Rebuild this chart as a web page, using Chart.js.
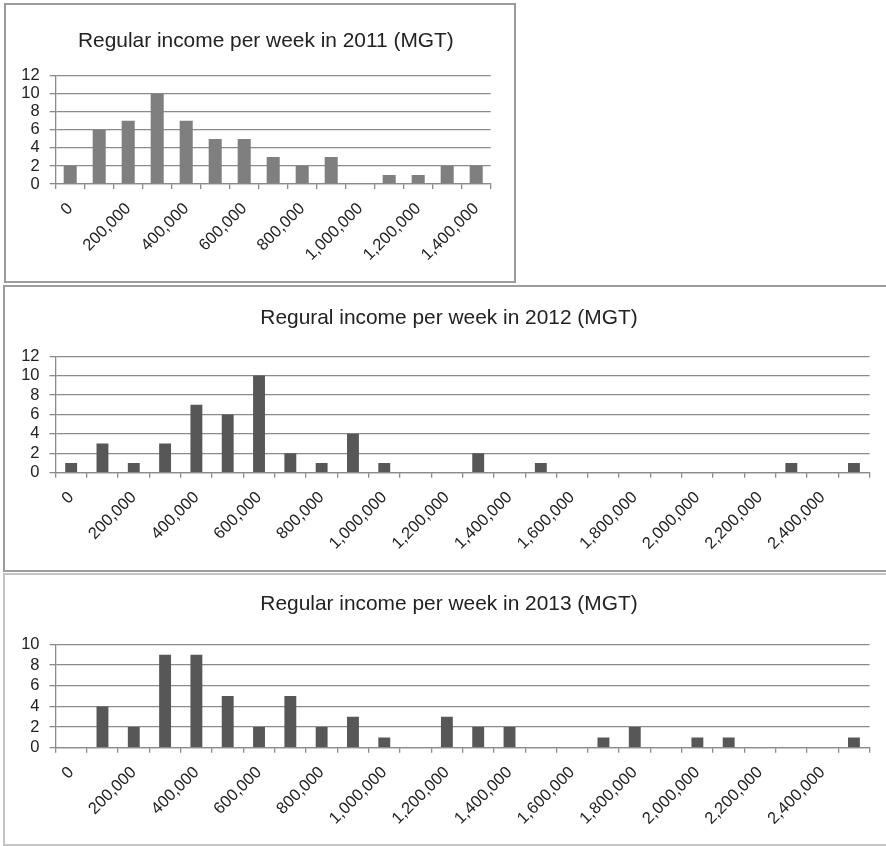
<!DOCTYPE html>
<html>
<head>
<meta charset="utf-8">
<script src="https://cdn.jsdelivr.net/npm/chart.js@4.4.0/dist/chart.umd.min.js"></script>
<style>
  html, body { margin: 0; padding: 0; background: #fff; width: 886px; height: 846px; overflow: hidden; }
  .panel { position: absolute; box-sizing: border-box; border: 2px solid #9c9c9c; }
  canvas { position: absolute; }
</style>
</head>
<body>
<div class="panel" style="left:4px;top:3px;width:512px;height:280px"></div>
<div class="panel" style="left:3px;top:285px;width:900px;height:287px"></div>
<div class="panel" style="left:3px;top:573px;width:900px;height:273px;border-color:#c4c4c4"></div>
<canvas id="c2011" width="520" height="285" style="left:0;top:0"></canvas>
<canvas id="c2012" width="886" height="283" style="left:0;top:287px"></canvas>
<canvas id="c2013" width="886" height="271" style="left:0;top:575px"></canvas>
<script>
// Income bins (MGT per week), 100,000 wide
const bins2011 = ['0', '100,000', '200,000', '300,000', '400,000', '500,000', '600,000',
  '700,000', '800,000', '900,000', '1,000,000', '1,100,000', '1,200,000', '1,300,000', '1,400,000'];
const binsWide = ['0', '100,000', '200,000', '300,000', '400,000', '500,000', '600,000',
  '700,000', '800,000', '900,000', '1,000,000', '1,100,000', '1,200,000', '1,300,000',
  '1,400,000', '1,500,000', '1,600,000', '1,700,000', '1,800,000', '1,900,000', '2,000,000',
  '2,100,000', '2,200,000', '2,300,000', '2,400,000', '2,500,000'];

// Number of households in each bin
const counts2011 = [2, 6, 7, 10, 7, 5, 5, 3, 2, 3, 0, 1, 1, 2, 2];
const counts2012 = [1, 3, 1, 3, 7, 6, 10, 2, 1, 4, 1, 0, 0, 2, 0, 1, 0, 0, 0, 0, 0, 0, 0, 1, 0, 1];
const counts2013 = [0, 4, 2, 9, 9, 5, 2, 5, 2, 3, 1, 0, 3, 2, 2, 0, 0, 1, 2, 0, 1, 1, 0, 0, 0, 1];

const titles = [
  'Regular income per week in 2011 (MGT)',
  'Regural income per week in 2012 (MGT)',
  'Regular income per week in 2013 (MGT)'
];

const FONT = "'Liberation Sans', Arial, sans-serif";
const GRID = '#8a8a8a';
const TEXT = '#222222';

// Nudges the title block sideways after layout, so it is centred over the whole panel
const titleShift = {
  id: 'titleShift',
  afterLayout(chart, args, opts) {
    const t = chart.titleBlock;
    if (t && opts.dx) { t.left += opts.dx; t.right += opts.dx; }
  }
};

function drawHistogram(id, o) {
  return new Chart(document.getElementById(id), {
    type: 'bar',
    plugins: [titleShift],
    data: {
      labels: o.labels,
      datasets: [{
        data: o.values,
        backgroundColor: o.color,
        borderWidth: 0,
        barPercentage: o.barPct,
        categoryPercentage: 1
      }]
    },
    options: {
      responsive: false,
      animation: false,
      devicePixelRatio: 1,
      layout: { padding: { left: 0, right: o.padRight, top: 0, bottom: 0 } },
      plugins: {
        legend: { display: false },
        tooltip: { enabled: false },
        titleShift: { dx: o.titleDx },
        title: {
          display: true,
          text: o.title,
          color: TEXT,
          font: { family: FONT, size: 20.9, weight: 'normal', lineHeight: 1.2 },
          padding: { top: o.titleTop, bottom: o.titleBottom }
        }
      },
      scales: {
        x: {
          offset: true,
          grid: { display: true, offset: true, drawOnChartArea: false, drawTicks: true,
                  tickLength: 5, color: GRID, lineWidth: 1.3 },
          border: { display: true, color: GRID, width: 1.3 },
          ticks: {
            autoSkip: false, minRotation: 45, maxRotation: 45, padding: 10,
            color: TEXT, font: { family: FONT, size: 16.5 },
            callback: function (v, i) { return i % 2 === 0 ? this.getLabelForValue(v) : ''; }
          },
          afterFit: (s) => { s.height = o.xHeight; }
        },
        y: {
          min: 0, max: o.yMax,
          ticks: { stepSize: 2, autoSkip: false, padding: 10, color: TEXT,
                   font: { family: FONT, size: 16.5 } },
          grid: { color: GRID, lineWidth: 1.3, tickLength: 6 },
          border: { display: true, color: GRID, width: 1.3 },
          afterFit: (s) => { s.width = o.plotLeft; }
        }
      }
    }
  });
}

drawHistogram('c2011', {
  labels: bins2011, values: counts2011, title: titles[0], color: '#7f7f7f',
  barPct: 0.45, yMax: 12, plotLeft: 55.7, padRight: 29.3, xHeight: 101,
  titleTop: 28.2, titleBottom: 22.5, titleDx: 20.5
});
drawHistogram('c2012', {
  labels: binsWide, values: counts2012, title: titles[1], color: '#575757',
  barPct: 0.38, yMax: 12, plotLeft: 55.5, padRight: 16.4, xHeight: 97.3,
  titleTop: 18.2, titleBottom: 25.9, titleDx: 14.2
});
drawHistogram('c2013', {
  labels: binsWide, values: counts2013, title: titles[2], color: '#575757',
  barPct: 0.38, yMax: 10, plotLeft: 55.5, padRight: 16.4, xHeight: 98.3,
  titleTop: 16.5, titleBottom: 27.9, titleDx: 14.2
});
</script>
</body>
</html>
